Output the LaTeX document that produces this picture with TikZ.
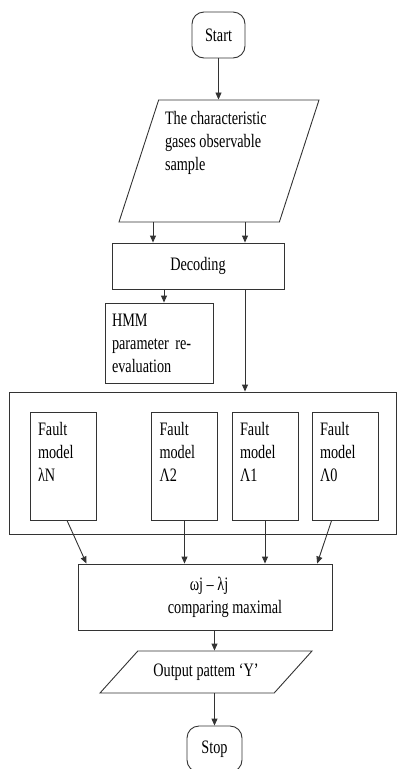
\documentclass[tikz,border=0pt]{standalone}
\usepackage{fontspec}
\setmainfont{Liberation Serif}[FakeStretch=0.75]
\usetikzlibrary{shapes.geometric,arrows.meta,calc}

\tikzset{
  box/.style={draw=black!80, line width=0.9pt, font=\fontsize{19}{23}\selectfont},
  term/.style={box, rectangle, rounded corners=12pt, minimum width=53pt, minimum height=46pt, inner sep=0pt},
  proc/.style={box, rectangle, inner sep=0pt},
  io/.style={box, trapezium, trapezium stretches body, inner sep=0pt},
  fault/.style={proc, minimum width=66pt, minimum height=108pt},
  arr/.style={draw=black!80, line width=0.9pt, arrows={-Triangle[length=7pt,width=6pt]}}
}
\newcommand{\toptext}[3]{\parbox[c][#1][t]{#2}{\raggedright #3}}

\begin{document}
\begin{tikzpicture}[x=1pt,y=-1pt]
\useasboundingbox (0,0) rectangle (397,769);

% flow boxes, top to bottom
\node[term] (start) at (218.5,35) {Start};
\node[io, trapezium left angle=72, trapezium right angle=108, minimum width=200pt, minimum height=122pt, inner ysep=11pt] (obs) at (219,161)
  {\toptext{100pt}{108pt}{The characteristic\\gases observable\\sample}};
\node[proc, minimum width=172pt, minimum height=46pt] (dec) at (198,266) {Decoding};
\node[proc, minimum width=108pt, minimum height=80pt, text width=94pt, align=left] (hmm) at (159,343) {HMM\\parameter re-\\evaluation};

% model bank
\node[proc, minimum width=387pt, minimum height=142pt] (bank) at (202.5,463) {};
\node[fault] (fN) at (63,466) {\toptext{88pt}{50pt}{Fault\\model\\λN}};
\node[fault] (f2) at (184.5,466) {\toptext{88pt}{50pt}{Fault\\model\\Λ2}};
\node[fault] (f1) at (265,466) {\toptext{88pt}{50pt}{Fault\\model\\Λ1}};
\node[fault] (f0) at (345,466) {\toptext{88pt}{50pt}{Fault\\model\\Λ0}};

\node[proc, minimum width=254pt, minimum height=66pt, align=left] (cmp) at (205,597) {\hspace*{62pt}ωj – λj\\\hspace*{40pt}comparing maximal};
\node[io, trapezium left angle=48, trapezium right angle=132, minimum width=212pt, minimum height=42pt] (out) at (206,672)
  {\parbox[c][42pt][c]{130pt}{\centering Output pattem ‘Y’}};
\node[term, minimum width=55pt] (stop) at (214.5,749) {Stop};

% arrows
\coordinate (xa) at (153,0);
\coordinate (xb) at (245,0);
\coordinate (xc) at (164,0);
\draw[arr] (start) -- (obs.north -| start);
\draw[arr] (obs.south -| xa) -- (dec.north -| xa);
\draw[arr] (obs.south -| xb) -- (dec.north -| xb);
\draw[arr] (dec.south -| xc) -- (hmm.north -| xc);
\draw[arr] (dec.south -| xb) -- (bank.north -| xb);
\draw[arr] ($(fN.south west)!0.56!(fN.south east)$) -- ($(cmp.north west)!0.035!(cmp.north east)$);
\draw[arr] (f2.south) -- (cmp.north -| f2.south);
\draw[arr] (f1.south) -- (cmp.north -| f1.south);
\draw[arr] ($(f0.south west)!0.3!(f0.south east)$) -- ($(cmp.north west)!0.94!(cmp.north east)$);
\draw[arr] (cmp.south -| stop.north) -- (out.north -| stop.north);
\draw[arr] (out.south -| stop.north) -- (stop.north);

\end{tikzpicture}
\end{document}
